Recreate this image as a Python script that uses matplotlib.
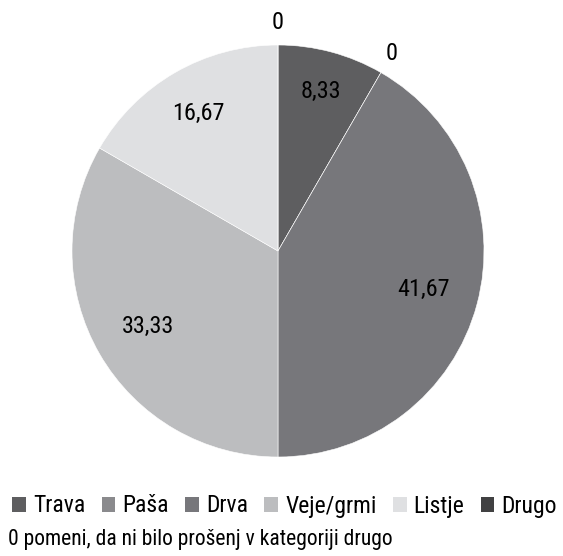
import matplotlib
matplotlib.use("Agg")
import matplotlib.pyplot as plt
from matplotlib.patches import Patch
import numpy as np

plt.rcParams['font.family'] = ['Roboto Condensed', 'DejaVu Sans']
plt.rcParams['font.stretch'] = 'condensed'

categories = ["Trava", "Paša", "Drva", "Veje/grmi", "Listje", "Drugo"]
values = [8.33, 0, 41.67, 33.33, 16.67, 0]
value_labels = ["8,33", "0", "41,67", "33,33", "16,67", "0"]
colors = ["#5e5e60", "#8a8a8d", "#77777b", "#bcbdbf", "#dfe0e2", "#414142"]
label_dist = [0.80, 1.107, 0.73, 0.73, 0.77, 1.107]
note = "0 pomeni, da ni bilo prošenj v kategoriji drugo"

W, H = 563, 556
fig = plt.figure(figsize=(W / 100, H / 100), dpi=100)

cx, cy, r = 278, 251, 206
ax = fig.add_axes([(cx - r) / W, (H - cy - r) / H, 2 * r / W, 2 * r / H])

wedges, texts = ax.pie(values, colors=colors, startangle=90, counterclock=False,
                       labels=value_labels, labeldistance=1.0,
                       wedgeprops=dict(edgecolor="white", linewidth=0.4),
                       textprops=dict(fontsize=17.5, ha="center", va="center"))

# put each value label at its own distance from the centre
total = sum(values)
start = 90.0
for i, (t, v) in enumerate(zip(texts, values)):
    mid = start - 360.0 * v / total / 2
    ang = np.deg2rad(mid)
    t.set_position((label_dist[i] * np.cos(ang), label_dist[i] * np.sin(ang)))
    t.set_ha("center")
    t.set_va("center")
    start -= 360.0 * v / total

ax.set_xlim(-1, 1)
ax.set_ylim(-1, 1)

handles = [Patch(facecolor=c, edgecolor="none") for c in colors]
fig.legend(handles, categories, loc="center left", bbox_to_anchor=(3 / W, (H - 506) / H),
           ncol=6, frameon=False, fontsize=17, handlelength=0.58, handleheight=0.58,
           handletextpad=0.3, columnspacing=0.69, borderaxespad=0, borderpad=0.4)

fig.text(8 / W, (H - 540) / H, note, fontsize=15.5, ha="left", va="center")

fig.savefig("out.png", dpi=100)
